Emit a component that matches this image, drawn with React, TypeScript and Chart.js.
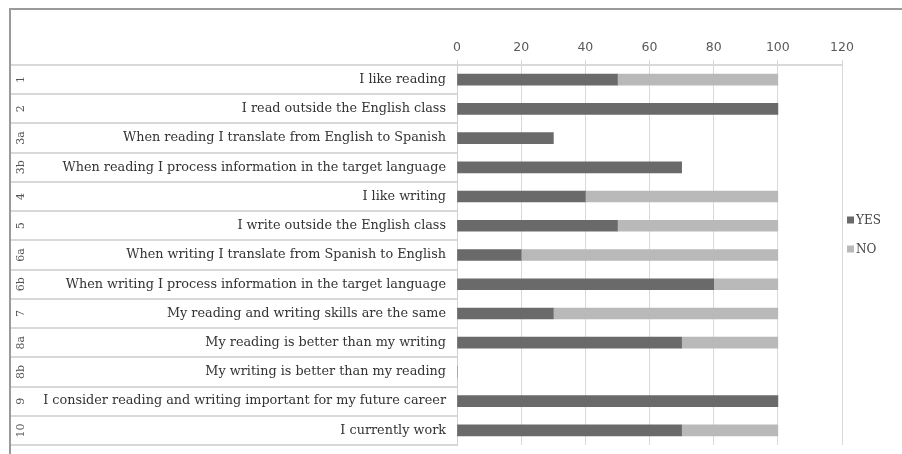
import { useEffect, useRef } from "react";
import { Chart, registerables } from "chart.js";

Chart.register(...registerables);

const rowNumbers = ["1", "2", "3a", "3b", "4", "5", "6a", "6b", "7", "8a", "8b", "9", "10"];
const statements = [
  "I like reading",
  "I read outside the English class",
  "When reading I translate from English to Spanish",
  "When reading I process information in the target language",
  "I like writing",
  "I write outside the English class",
  "When writing I translate from Spanish to English",
  "When writing I process information in the target language",
  "My reading and writing skills are the same",
  "My reading is better than my writing",
  "My writing is better than my reading",
  "I consider reading and writing important for my future career",
  "I currently work",
];
const yesValues = [50, 100, 30, 70, 40, 50, 20, 80, 30, 70, 0, 100, 70];
const noValues = [50, 0, 0, 0, 60, 50, 80, 20, 70, 30, 0, 0, 30];
const seriesNames = ["YES", "NO"];
const seriesColors = ["#6a6a6a", "#b9b9b9"];
const axisMin = 0;
const axisMax = 120;
const axisStep = 20;

const SERIF = "'DejaVu Serif', 'Liberation Serif', serif";
const SANS = "'DejaVu Sans', 'Liberation Sans', sans-serif";

const decorPlugin = {
  id: "tableDecor",
  afterDraw(chart: any) {
    const { ctx, chartArea, scales } = chart;
    const y = scales.y;
    const n = rowNumbers.length;
    const step = (chartArea.bottom - chartArea.top) / n;
    ctx.save();
    // row separators in the label area
    ctx.strokeStyle = "#d9d9d9";
    ctx.lineWidth = 2;
    for (let i = 0; i <= n; i++) {
      const yy = Math.round(chartArea.top + i * step);
      ctx.beginPath();
      ctx.moveTo(10, yy);
      ctx.lineTo(chartArea.left, yy);
      ctx.stroke();
    }
    // rotated row numbers
    ctx.fillStyle = "#555555";
    ctx.font = `11px ${SERIF}`;
    ctx.textAlign = "center";
    ctx.textBaseline = "middle";
    rowNumbers.forEach((num, i) => {
      const cy = y.getPixelForValue(i);
      ctx.save();
      ctx.translate(21, cy);
      ctx.rotate(-Math.PI / 2);
      ctx.fillText(num, 0, 0);
      ctx.restore();
    });
    // legend
    const legendX = chartArea.right + 5;
    const legendYs = [220, 249];
    ctx.font = `12px ${SERIF}`;
    ctx.textAlign = "left";
    chart.data.datasets.forEach((ds: any, i: number) => {
      const ly = legendYs[i];
      ctx.fillStyle = ds.backgroundColor;
      ctx.fillRect(legendX, ly - 3.5, 7, 7);
      ctx.fillStyle = "#444444";
      ctx.fillText(ds.label, legendX + 9, ly + 1);
    });
    // outer frame (top and left)
    ctx.strokeStyle = "#9a9a9a";
    ctx.lineWidth = 2;
    ctx.beginPath();
    ctx.moveTo(10, 454);
    ctx.lineTo(10, 9);
    ctx.lineTo(902, 9);
    ctx.stroke();
    ctx.restore();
  },
};

export default function App() {
  const canvasRef = useRef<HTMLCanvasElement | null>(null);

  useEffect(() => {
    if (!canvasRef.current) return;
    const chart = new Chart(canvasRef.current, {
      type: "bar",
      data: {
        labels: statements,
        datasets: [
          {
            label: seriesNames[0],
            data: yesValues,
            backgroundColor: seriesColors[0],
            borderWidth: 0,
            barThickness: 11,
          },
          {
            label: seriesNames[1],
            data: noValues,
            backgroundColor: seriesColors[1],
            borderWidth: 0,
            barThickness: 11,
          },
        ],
      },
      options: {
        indexAxis: "y",
        animation: false,
        responsive: false,
        devicePixelRatio: 1,
        layout: { padding: { left: 0, right: 60, top: 0, bottom: 9 } },
        plugins: {
          legend: { display: false },
          tooltip: { enabled: false },
        },
        scales: {
          x: {
            position: "top",
            stacked: true,
            min: axisMin,
            max: axisMax,
            ticks: {
              stepSize: axisStep,
              color: "#5a5a5a",
              font: { family: SANS, size: 12.5 },
              padding: 5,
            },
            grid: { color: "#d9d9d9", lineWidth: 1, tickLength: 5, drawTicks: true },
            border: { display: true, color: "#d9d9d9", width: 2 },
            afterFit(scale: any) {
              scale.height = 65;
              scale.paddingLeft = 0;
              scale.paddingRight = 0;
            },
          },
          y: {
            stacked: true,
            ticks: {
              color: "#333333",
              font: { family: SERIF, size: 12.8 },
              padding: 11,
              autoSkip: false,
            },
            grid: { display: false, drawTicks: false },
            border: { display: true, color: "#d0d0d0", width: 1 },
            afterFit(scale: any) {
              scale.width = 457;
              scale.paddingTop = 0;
              scale.paddingBottom = 0;
            },
          },
        },
      },
      plugins: [decorPlugin],
    });
    return () => chart.destroy();
  }, []);

  return (
    <div style={{ position: "fixed", left: 0, top: 0, width: 902, height: 454, background: "#ffffff" }}>
      <canvas ref={canvasRef} width={902} height={454} style={{ display: "block" }} />
    </div>
  );
}
